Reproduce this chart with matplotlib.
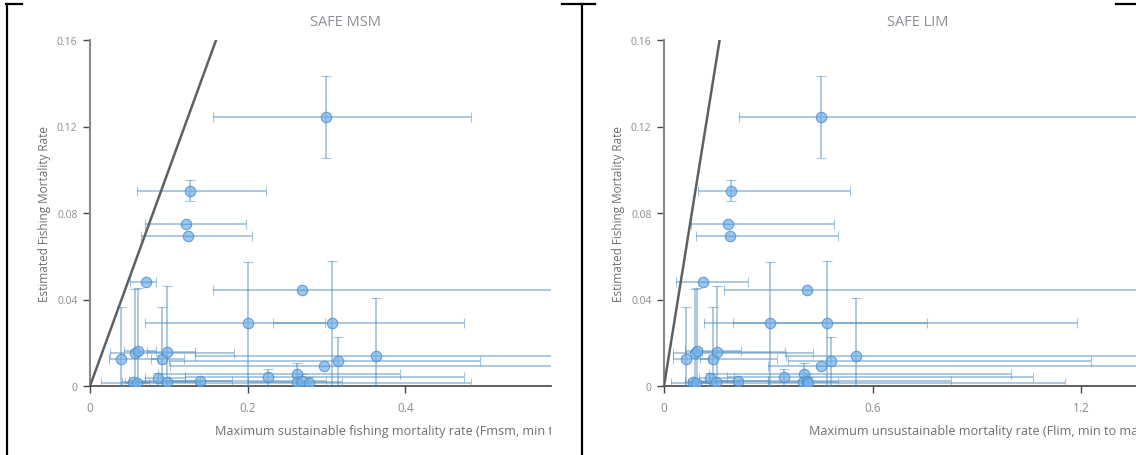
import numpy as np
import matplotlib
matplotlib.use("Agg")
import matplotlib.pyplot as plt
from matplotlib.transforms import Bbox

plt.rcParams['font.family'] = ['Open Sans', 'DejaVu Sans']

# estimated fishing mortality (y) with min/max
f_est = [0.1245, 0.0903, 0.0748, 0.0692, 0.0482, 0.0444, 0.0291, 0.0291,
         0.0137, 0.0126, 0.0126, 0.0153, 0.0162, 0.0156, 0.0116, 0.0091,
         0.0040, 0.0055, 0.0017, 0.0025, 0.0012, 0.0023, 0.0036, 0.0017,
         0.0017, 0.0012]
f_est_lo = [0.1054, 0.0855, 0.0748, 0.0692, 0.0482, 0.0444, 0.0006, 0.0005,
            0.0, 0.0, 0.0, 0.0, 0.0, 0.0, 0.0, 0.0091,
            0.0, 0.0, 0.0005, 0.0, 0.0, 0.0010, 0.0, 0.0,
            0.0005, 0.0]
f_est_hi = [0.1435, 0.0953, 0.0748, 0.0692, 0.0482, 0.0444, 0.0575, 0.0578,
            0.0408, 0.0367, 0.0367, 0.0449, 0.0452, 0.0464, 0.0225, 0.0091,
            0.0077, 0.0105, 0.0030, 0.0055, 0.0040, 0.0030, 0.0060, 0.0030,
            0.0025, 0.0020]

# SAFE MSM: Fmsm with min/max
fmsm = [0.299, 0.1266, 0.1221, 0.1242, 0.0713, 0.2694, 0.200, 0.3075,
        0.3634, 0.039, 0.092, 0.0569, 0.0607, 0.0975, 0.3151, 0.2974,
        0.2254, 0.263, 0.263, 0.269, 0.278, 0.139, 0.086, 0.0975,
        0.0544, 0.0601]
fmsm_lo = [0.156, 0.060, 0.070, 0.0645, 0.051, 0.1556, 0.070, 0.232,
           0.133, 0.0235, 0.078, 0.026, 0.043, 0.072, 0.100, 0.101,
           0.120, 0.086, 0.200, 0.050, 0.014, 0.100, 0.070, 0.060,
           0.040, 0.045]
fmsm_hi = [0.484, 0.223, 0.1975, 0.2055, 0.084, 0.800, 0.298, 0.475,
           0.800, 0.086, 0.119, 0.1826, 0.084, 0.1327, 0.4955, 0.800,
           0.474, 0.393, 0.320, 0.300, 0.484, 0.180, 0.120, 0.140,
           0.070, 0.075]

# SAFE LIM: Flim with min/max
flim = [0.452, 0.193, 0.184, 0.190, 0.113, 0.410, 0.305, 0.468,
        0.5525, 0.0624, 0.142, 0.090, 0.094, 0.152, 0.480, 0.452,
        0.345, 0.402, 0.400, 0.410, 0.415, 0.214, 0.132, 0.150,
        0.083, 0.092]
flim_lo = [0.216, 0.098, 0.078, 0.092, 0.034, 0.173, 0.115, 0.198,
           0.351, 0.025, 0.105, 0.027, 0.060, 0.110, 0.358, 0.300,
           0.180, 0.130, 0.300, 0.080, 0.020, 0.150, 0.100, 0.090,
           0.060, 0.070]
flim_hi = [1.511, 0.535, 0.489, 0.500, 0.242, 1.600, 0.756, 1.188,
           1.600, 0.130, 0.324, 0.430, 0.222, 0.348, 1.229, 1.600,
           1.062, 0.997, 0.500, 0.826, 1.154, 0.300, 0.200, 0.220,
           0.120, 0.130]

panels = [
    ("SAFE MSM", fmsm, fmsm_lo, fmsm_hi, (0, 0.585), [0, 0.2, 0.4],
     "Maximum sustainable fishing mortality rate (Fmsm, min to max)", 215, 551, 345),
    ("SAFE LIM", flim, flim_lo, flim_hi, (0, 1.358), [0, 0.6, 1.2],
     "Maximum unsustainable mortality rate (Flim, min to max)", 809, 1136, 918),
]
axes_px = [(90, 551), (664, 1136)]

W, H = 1136, 456
fig = plt.figure(figsize=(W / 100, H / 100), dpi=100)
fig.patch.set_facecolor("white")

y = np.array(f_est)
yerr = [y - np.array(f_est_lo), np.array(f_est_hi) - y]

for (title, xs, xlo, xhi, xlim, xticks, xlabel, lab_x, clip_x, title_x), (l, r) in zip(panels, axes_px):
    ax = fig.add_axes([l / W, 1 - 387 / H, (r - l) / W, (387 - 41) / H])
    x = np.array(xs)
    xerr = [x - np.array(xlo), np.array(xhi) - x]
    ax.errorbar(x, y, xerr=xerr, yerr=yerr, fmt='o', ms=7.5,
                mfc=(0.45, 0.69, 0.91, 0.7), mec=(0.30, 0.55, 0.80, 0.8), mew=0.8,
                ecolor=(0.30, 0.55, 0.75, 0.5), elinewidth=1.3, capsize=3.3,
                capthick=1.2, zorder=3)
    ax.plot([0, 0.16], [0, 0.16], color='#5c6166', lw=1.8, zorder=4)
    ax.set_xlim(*xlim)
    ax.set_ylim(0, 0.16)
    ax.set_xticks(xticks)
    ax.set_xticklabels([f"{t:g}" for t in xticks])
    ax.set_yticks([0, 0.04, 0.08, 0.12, 0.16])
    ax.set_yticklabels(["0", "0.04", "0.08", "0.12", "0.16"])
    for s in ['top', 'right']:
        ax.spines[s].set_visible(False)
    ax.spines['left'].set_color('#888888')
    ax.spines['left'].set_linewidth(1.5)
    ax.spines['bottom'].set_color('#444444')
    ax.spines['bottom'].set_linewidth(1.2)
    ax.tick_params(axis='both', direction='out', length=5, width=1, color='#444444',
                   labelcolor='#8a8d91', labelsize=7.5, pad=4)
    ax.tick_params(axis='x', labelsize=8.5, pad=6)
    ax.set_ylabel("Estimated Fishing Mortality Rate", color='#6b6f74', fontsize=8.5, labelpad=4)
    fig.text(title_x / W, 1 - 22 / H, title,
             ha='center', va='center', color='#8c9096', fontsize=10.5)
    # axis title is cut off by the panel edge, as in the reference
    t = fig.text(lab_x / W, 1 - 432 / H, xlabel, ha='left', va='center',
                 color='#6b6f74', fontsize=9.1)
    t.set_clip_box(Bbox([[0, 0], [clip_x, H]]))
    t.set_clip_on(True)

# screenshot frame lines
fig.add_artist(plt.Line2D([7 / W, 7 / W], [0, 1 - 5 / H], color='black', lw=1.6))
fig.add_artist(plt.Line2D([582 / W, 582 / W], [0, 1 - 5 / H], color='black', lw=1.6))
for a, b in [(6, 22), (562, 595), (1116, 1136)]:
    fig.add_artist(plt.Line2D([a / W, b / W], [1 - 5 / H, 1 - 5 / H], color='black', lw=1.6))

fig.savefig("out.png", dpi=100)
